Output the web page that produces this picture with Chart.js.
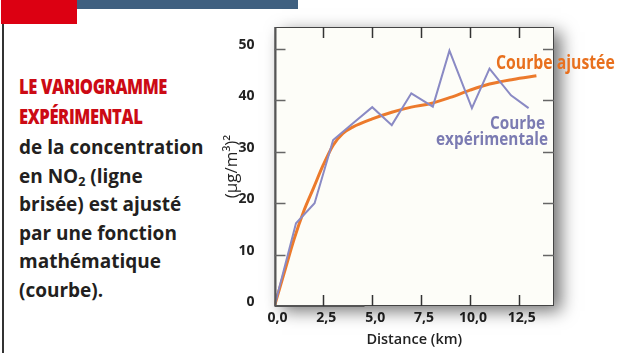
<!DOCTYPE html>
<html>
<head>
<meta charset="utf-8">
<title>Variogramme expérimental</title>
<style>
  html, body { margin: 0; padding: 0; background: #fff; }
  body { width: 623px; height: 353px; position: relative; overflow: hidden; }
  #chart { position: absolute; left: 0; top: 0; }
  .bar-red { position: absolute; left: 1px; top: 0; width: 76px; height: 24px; background: #dc0012; }
  .bar-blue { position: absolute; left: 77px; top: 0; width: 221px; height: 9px; background: #3f6080; }
  .rule { position: absolute; left: 2px; top: 24px; width: 2px; height: 329px; background: #333; }
  .titre { position: absolute; left: 19px; top: 71px; color: #cc0a14; font-family: "Open Sans", sans-serif; font-weight: 800; font-size: 21px; line-height: 30px; letter-spacing: -0.5px; transform: scaleX(0.79); transform-origin: 0 0; white-space: nowrap; }
  .texte { position: absolute; left: 19px; top: 133px; color: #231f20; font-family: "Open Sans", sans-serif; font-weight: 700; font-size: 19px; line-height: 28.5px; white-space: nowrap; }
  .texte sub { font-size: 12.5px; vertical-align: -3px; line-height: 0; }
</style>
</head>
<body>
<div class="bar-red"></div>
<div class="bar-blue"></div>
<div class="rule"></div>
<div class="titre">LE VARIOGRAMME<br>EXPÉRIMENTAL</div>
<div class="texte">de la concentration<br>en NO<sub>2</sub> (ligne<br>brisée) est ajusté<br>par une fonction<br>mathématique<br>(courbe).</div>
<canvas id="chart" width="623" height="353"></canvas>

<script src="https://cdn.jsdelivr.net/npm/chart.js"></script>
<script>
// variogramme expérimental (ligne brisée)
const distExp  = [0, 1.1, 2.05, 3.0, 4.0, 5.0, 6.0, 7.0, 8.1, 8.95, 10.1, 11.0, 12.1, 13.0];
const gammaExp = [0, 16.1, 20.0, 32.3, 35.5, 38.7, 35.2, 41.4, 38.8, 49.7, 38.5, 46.2, 41.0, 38.5];

// courbe ajustée
const distFit  = [0, 0.5, 1, 1.5, 2, 2.5, 3, 3.5, 4, 5, 6, 7, 8, 9, 10, 11, 12.2, 13.4];
const gammaFit = [0, 6.5, 13.0, 18.5, 23.0, 27.5, 31.3, 33.6, 34.8, 36.4, 37.7, 38.7, 39.4, 40.6, 42.0, 43.2, 44.1, 44.8];

const xTicks = [0, 2.5, 5, 7.5, 10, 12.5];
const yTicks = [0, 10, 20, 30, 40, 50];

const toPts = (xs, ys) => xs.map((x, i) => ({ x: x, y: ys[i] }));
const fmt = v => v.toFixed(1).replace('.', ',');

// texte étroit (police condensée simulée)
function narrowText(ctx, txt, x, y, sx, align) {
  ctx.save();
  ctx.translate(x, y);
  ctx.scale(sx, 1);
  ctx.textAlign = align;
  ctx.fillText(txt, 0, 0);
  ctx.restore();
}

// fond du graphique, cadre et graduations intérieures
const cadre = {
  id: 'cadre',
  beforeDatasetsDraw(chart) {
    const { ctx, chartArea: a } = chart;
    ctx.save();
    ctx.shadowColor = 'rgba(0,0,0,0.55)';
    ctx.shadowBlur = 16;
    ctx.shadowOffsetX = 7;
    ctx.shadowOffsetY = 5;
    ctx.fillStyle = '#fdfdf8';
    ctx.fillRect(a.left, a.top, a.right - a.left, a.bottom - a.top);
    ctx.restore();
  },
  afterDatasetsDraw(chart) {
    const { ctx, chartArea: a, scales } = chart;
    ctx.save();
    ctx.strokeStyle = '#444';
    ctx.lineWidth = 1;
    ctx.strokeRect(a.left + 0.5, a.top + 0.5, a.right - a.left - 1, a.bottom - a.top - 1);
    ctx.lineWidth = 2;
    ctx.strokeStyle = '#555';
    ctx.beginPath();
    ctx.moveTo(a.left + 1, a.top);
    ctx.lineTo(a.left + 1, a.bottom);
    ctx.lineTo(a.left + 90, a.bottom);
    ctx.stroke();
    const len = 11;
    ctx.lineWidth = 1.5;
    ctx.strokeStyle = '#333';
    scales.x.ticks.forEach(t => {
      if (t.value === 0) return;
      const px = Math.round(scales.x.getPixelForValue(t.value)) + 0.5;
      ctx.beginPath(); ctx.moveTo(px, a.bottom); ctx.lineTo(px, a.bottom - len); ctx.stroke();
      ctx.beginPath(); ctx.moveTo(px, a.top); ctx.lineTo(px, a.top + len); ctx.stroke();
    });
    ctx.strokeStyle = '#666';
    scales.y.ticks.forEach(t => {
      if (t.value === 0) return;
      const py = Math.round(scales.y.getPixelForValue(t.value)) + 0.5;
      ctx.beginPath(); ctx.moveTo(a.left, py); ctx.lineTo(a.left + len, py); ctx.stroke();
      ctx.beginPath(); ctx.moveTo(a.right, py); ctx.lineTo(a.right - len, py); ctx.stroke();
    });
    ctx.restore();
  },
  afterDraw(chart) {
    const { ctx } = chart;
    ctx.save();
    ctx.textBaseline = 'alphabetic';
    ctx.font = 'bold 19px "Open Sans", sans-serif';
    ctx.fillStyle = '#e8701e';
    narrowText(ctx, 'Courbe ajustée', 496, 69, 0.83, 'left');
    ctx.font = 'bold 18px "Open Sans", sans-serif';
    ctx.fillStyle = '#7b7bb2';
    narrowText(ctx, 'Courbe', 545, 129, 0.85, 'right');
    narrowText(ctx, 'expérimentale', 548, 145, 0.85, 'right');
    ctx.restore();
  }
};

new Chart(document.getElementById('chart'), {
  type: 'line',
  data: {
    datasets: [
      {
        label: 'Courbe expérimentale',
        data: toPts(distExp, gammaExp),
        borderColor: '#8a8ac4',
        borderWidth: 2,
        pointRadius: 0,
        tension: 0
      },
      {
        label: 'Courbe ajustée',
        data: toPts(distFit, gammaFit),
        borderColor: '#ec7a2c',
        borderWidth: 3,
        pointRadius: 0,
        cubicInterpolationMode: 'monotone'
      }
    ]
  },
  options: {
    responsive: false,
    animation: false,
    events: [],
    layout: { padding: { left: 215, right: 69, top: 27, bottom: 4 } },
    plugins: { legend: { display: false }, tooltip: { enabled: false } },
    scales: {
      x: {
        type: 'linear',
        min: 0,
        max: 14.3,
        afterBuildTicks: s => { s.ticks = xTicks.map(v => ({ value: v })); },
        afterFit: s => { s.height = 43; },
        grid: { display: false },
        border: { display: false },
        ticks: {
          padding: -4,
          labelOffset: 3,
          color: '#222',
          font: { family: 'Open Sans', weight: 'bold', size: 14 },
          callback: v => fmt(v)
        },
        title: {
          display: true,
          text: 'Distance (km)',
          color: '#222',
          padding: 0,
          font: { family: 'Open Sans', weight: '600', size: 14.5 }
        }
      },
      y: {
        type: 'linear',
        min: 0,
        max: 54.3,
        afterBuildTicks: s => { s.ticks = yTicks.map(v => ({ value: v })); },
        afterFit: s => { s.width = 59.5; },
        grid: { display: false },
        border: { display: false },
        ticks: {
          padding: 12,
          labelOffset: -4,
          color: '#222',
          font: { family: 'Open Sans', weight: 'bold', size: 14 },
          callback: v => String(v)
        },
        title: {
          display: true,
          text: '(µg/m³)²',
          color: '#222',
          padding: { top: 7, bottom: 0 },
          font: { family: 'Open Sans', weight: 'normal', size: 17 }
        }
      }
    }
  },
  plugins: [cadre]
});
</script>
</body>
</html>
